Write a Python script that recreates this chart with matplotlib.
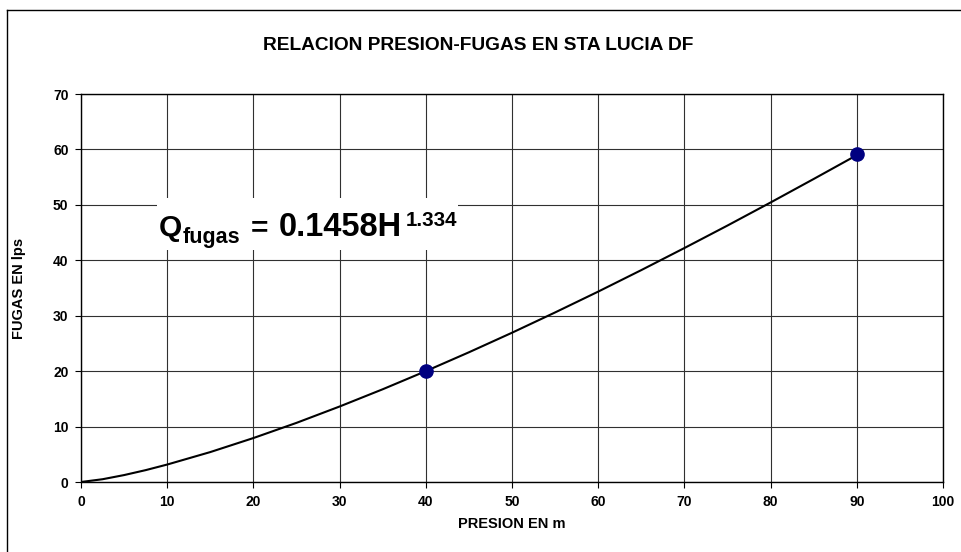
import matplotlib
matplotlib.use("Agg")
import matplotlib.pyplot as plt
from matplotlib.lines import Line2D
from matplotlib.patches import Rectangle

# Trendline (H in m, Q in lps)
curve_h = [0, 2.5, 5, 7.5, 10, 15, 20, 25, 30, 35, 40, 45, 50, 55, 60, 65, 70, 75, 80, 85, 90]
curve_q = [0, 0.50, 1.25, 2.14, 3.15, 5.40, 7.93, 10.67, 13.62, 16.73, 20.0, 23.40, 26.93,
           30.59, 34.35, 38.23, 42.21, 46.27, 50.43, 54.67, 58.97]

# Measured points
point_h = [40, 90]
point_q = [20.1, 59.2]

x_ticks = [0, 10, 20, 30, 40, 50, 60, 70, 80, 90, 100]
y_ticks = [0, 10, 20, 30, 40, 50, 60, 70]

title = "RELACION PRESION-FUGAS EN STA LUCIA DF"
xlabel = "PRESION EN m"
ylabel = "FUGAS EN lps"
eq_main = "Q"
eq_sub = "fugas"
eq_eq = "="
eq_coef = "0.1458H"
eq_exp = "1.334"

plt.rcParams['font.family'] = ['Liberation Sans', 'DejaVu Sans']

W, H = 961, 552
fig = plt.figure(figsize=(W / 100, H / 100), dpi=100)
fig.patch.set_facecolor('white')

def fx(px):
    return px / W

def fy(py):
    return 1 - py / H

# Outer chart border (left and top visible)
fig.add_artist(Line2D([fx(7), fx(7)], [0, fy(10)], color='black', lw=1.0))
fig.add_artist(Line2D([fx(7), 1], [fy(10), fy(10)], color='black', lw=1.0))

ax = fig.add_axes([fx(81), fy(482), (943 - 81) / W, (482 - 94) / H])
ax.set_xlim(0, 100)
ax.set_ylim(0, 70)
ax.set_xticks(x_ticks)
ax.set_yticks(y_ticks)
ax.set_xticklabels([str(v) for v in x_ticks], fontsize=10, fontweight='bold')
ax.set_yticklabels([str(v) for v in y_ticks], fontsize=10, fontweight='bold')
ax.tick_params(axis='both', direction='out', length=4, width=0.8, color='black', pad=5)
ax.grid(True, color='#303030', lw=0.8)
ax.set_axisbelow(True)
for s in ax.spines.values():
    s.set_color('black')
    s.set_linewidth(1.0)

ax.plot(curve_h, curve_q, color='black', lw=1.5, zorder=3)
ax.plot(point_h, point_q, 'o', color='#000080', markersize=9.5, zorder=4)

fig.text(fx(478), fy(45), title, ha='center', va='center', fontsize=13.8, fontweight='bold')
fig.text(fx(512), fy(524), xlabel, ha='center', va='center', fontsize=10.5, fontweight='bold')
fig.text(fx(19), fy(288), ylabel, ha='center', va='center', rotation=90, fontsize=10.5, fontweight='bold')

# Equation label with white background
ax.add_patch(Rectangle((fx(157), fy(250)), (458 - 157) / W, (250 - 198) / H,
                       transform=fig.transFigure, facecolor='white', edgecolor='none',
                       zorder=5, clip_on=False))
kw = dict(transform=fig.transFigure, ha='left', va='baseline', fontweight='bold', zorder=6)
ax.text(fx(159), fy(236), eq_main, fontsize=21.5, **kw)
ax.text(fx(183), fy(243), eq_sub, fontsize=15.5, **kw)
ax.text(fx(251), fy(236), eq_eq, fontsize=21.5, **kw)
ax.text(fx(279), fy(236), eq_coef, fontsize=23.5, **kw)
ax.text(fx(406), fy(226), eq_exp, fontsize=14.8, **kw)

fig.savefig('out.png', dpi=100, facecolor='white')
